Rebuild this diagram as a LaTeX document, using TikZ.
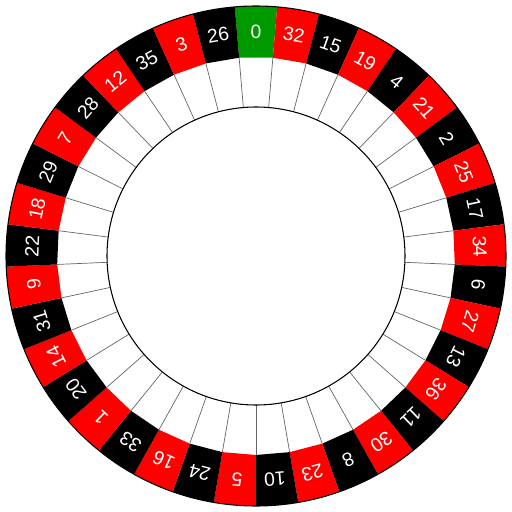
\documentclass[tikz,border=0pt]{standalone}
\usepackage{fontspec}
\setsansfont{Liberation Sans}
\definecolor{wheelred}{HTML}{FF0000}
\definecolor{wheelgreen}{HTML}{009900}
\tikzset{
  divider/.style={draw=black!60,line width=0.4pt},
  rim/.style={draw=black,line width=0.6pt},
  num/.style={font=\sffamily\fontsize{11}{13}\selectfont,text=white,inner sep=0pt},
}

\begin{document}
\begin{tikzpicture}[x=0.02cm,y=0.02cm]
  \useasboundingbox (0,0) rectangle (512,512);
  \begin{scope}[shift={(256,256)}]
    % pockets, clockwise from the top
    \foreach \n [count=\i from 0] in {0,32,15,19,4,21,2,25,17,34,6,27,13,36,11,30,8,23,10,5,24,16,33,1,20,14,31,9,22,18,29,7,28,12,35,3,26} {
      \pgfmathsetmacro\a{90-\i*360/37}
      \pgfmathsetmacro\lo{\a-180/37}
      \pgfmathsetmacro\hi{\a+180/37}
      \ifnum\i=0 \def\col{wheelgreen}\else\ifodd\i \def\col{wheelred}\else\def\col{black}\fi\fi
      \fill[\col] (\lo:199) -- (\hi:199)
        -- (\hi:250) arc[start angle=\hi,end angle=\lo,radius=250] -- cycle;
      \draw[divider] (\hi:149) -- (\hi:199);
      \node[num,rotate=\a-90] (n\n) at (\a:224) {\n};
    }
    \draw[rim] (0,0) circle[radius=250];
    \draw[rim] (0,0) circle[radius=149];
  \end{scope}
\end{tikzpicture}
\end{document}
